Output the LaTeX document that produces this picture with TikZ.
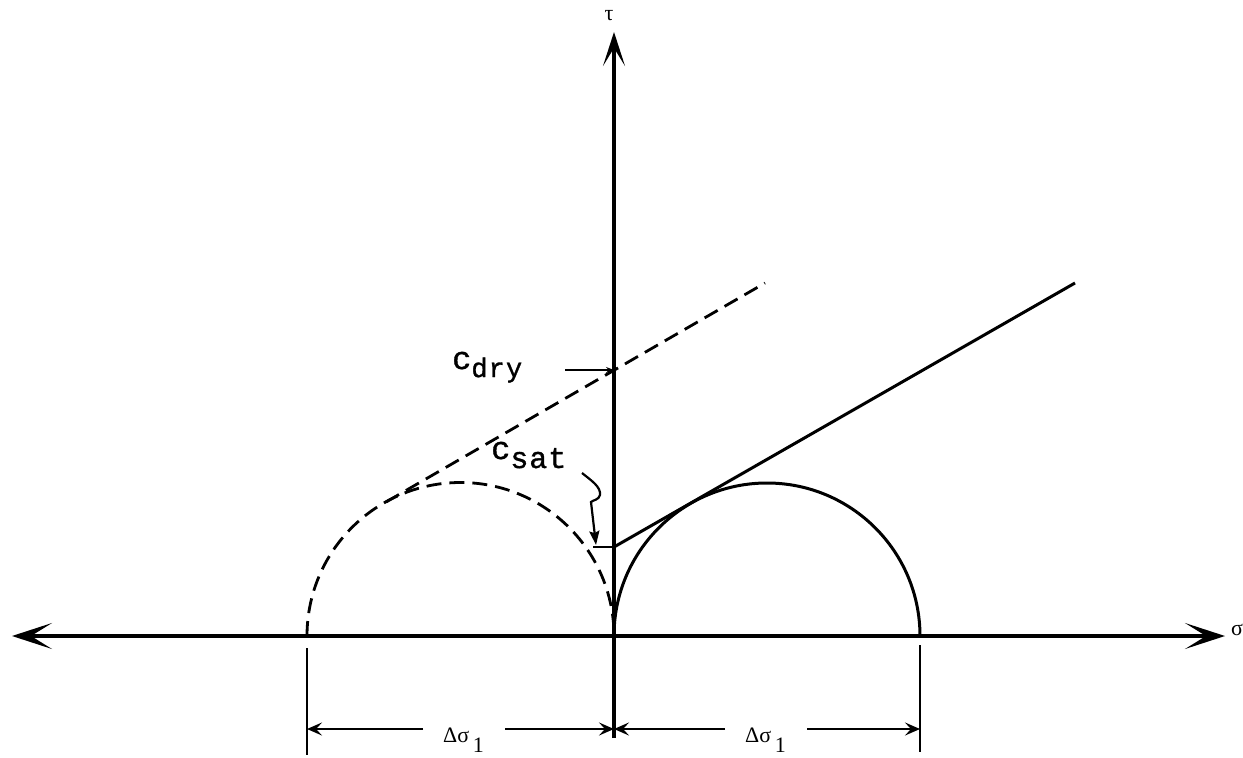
\documentclass[tikz,border=0pt]{standalone}
\usepackage{fontspec}
\usepackage{graphicx}
\newfontfamily\tw[FakeBold=1.2]{Liberation Mono}
\newfontfamily\tms{Liberation Serif}
\usetikzlibrary{arrows.meta}
\begin{document}
\begin{tikzpicture}[x=1pt,y=-1pt,
  axisline/.style={line width=3.4pt},
  curveline/.style={line width=3pt},
  dashline/.style={line width=2.8pt, dash pattern=on 15pt off 8pt},
  dimline/.style={line width=2.2pt},
  bigtipH/.tip={Stealth[length=40pt,width=26pt,inset=21pt]},
  bigtipV/.tip={Stealth[length=34pt,width=22pt,inset=18pt]},
  dimtip/.tip={Stealth[length=15pt,width=13pt,inset=6pt]},
  leadtip/.tip={Stealth[length=14pt,width=10pt,inset=2pt]},
  smalltip/.tip={Stealth[length=8pt,width=6pt]},
  greek/.style={inner sep=0pt, font=\tms\fontsize{22}{24}\selectfont},
  twlabel/.style={inner sep=0pt, anchor=base west, font=\tw}
]
\useasboundingbox (0,0) rectangle (1243,758);

% axes
\coordinate (O) at (614,636);
\coordinate (Xl) at (12,636);
\coordinate (Xr) at (1225,636);
\coordinate (Yt) at (614,32);
\coordinate (Yb) at (614,738);
\draw[axisline, bigtipH-bigtipH] (Xl) -- (Xr);
\draw[axisline, -bigtipV] (Yb) -- (Yt);
\node[greek] (tau) at (609,16) {τ};
\node[greek] (sig) at (1237,630) {σ};

% Mohr circles
\draw[curveline] (O) arc[start angle=180, end angle=360, radius=153];
\coordinate (Lc) at (307,636);
\draw[dashline] (Lc) arc[start angle=180, end angle=360, radius=153.5];

% envelopes
\coordinate (csatpt) at (614,547);
\coordinate (solidend) at (1075,283);
\draw[curveline] (csatpt) -- (solidend);
\coordinate (dstart) at (386,502);
\coordinate (dend) at (765,283);
\draw[dashline] (dstart) -- (dend);

% c_dry label
\node[twlabel] (cdry) at (452,369) {{\fontsize{32}{32}\selectfont c}\raisebox{-8pt}{\fontsize{27}{27}\selectfont\addfontfeature{LetterSpace=4}dry}};
\coordinate (cdryA) at (565,370);
\coordinate (cdrypt) at (614,370);
\draw[dimline, -smalltip] (cdryA) -- (cdrypt);

% c_sat label
\node[twlabel] (csat) at (491,459) {{\fontsize{32}{32}\selectfont c}\raisebox{-9pt}{\fontsize{30}{30}\selectfont\addfontfeature{LetterSpace=3}sat}};
\coordinate (s1) at (582,473);
\coordinate (s2) at (600,495);
\coordinate (s3) at (591,502);
\coordinate (stip) at (596,545);
\draw[dimline, -leadtip] (s1) .. controls (592,481) and (601,487) .. (s2)
   .. controls (599,500) and (593,500) .. (s3) -- (stip);
\coordinate (sh) at (593,547);
\draw[dimline] (sh) -- (csatpt);

% dimension lines
\coordinate (tl1) at (307,648);
\coordinate (tl2) at (307,755);
\coordinate (tr1) at (920,645);
\coordinate (tr2) at (920,752);
\draw[dimline] (tl1) -- (tl2);
\draw[dimline] (tr1) -- (tr2);
\coordinate (dL) at (307,729);
\coordinate (dM) at (614,729);
\coordinate (dR) at (920,729);
\coordinate (a1) at (423,729);
\coordinate (a2) at (505,729);
\coordinate (a3) at (725,729);
\coordinate (a4) at (807,729);
\draw[dimline, -dimtip] (a1) -- (dL);
\draw[dimline, -dimtip] (a2) -- (dM);
\draw[dimline, -dimtip] (a3) -- (dM);
\draw[dimline, -dimtip] (a4) -- (dR);
\node[greek, anchor=base west] (dlabL) at (443,742) {Δσ\,\raisebox{-10pt}{1}};
\node[greek, anchor=base west] (dlabR) at (745,742) {Δσ\,\raisebox{-10pt}{1}};
\end{tikzpicture}
\end{document}
